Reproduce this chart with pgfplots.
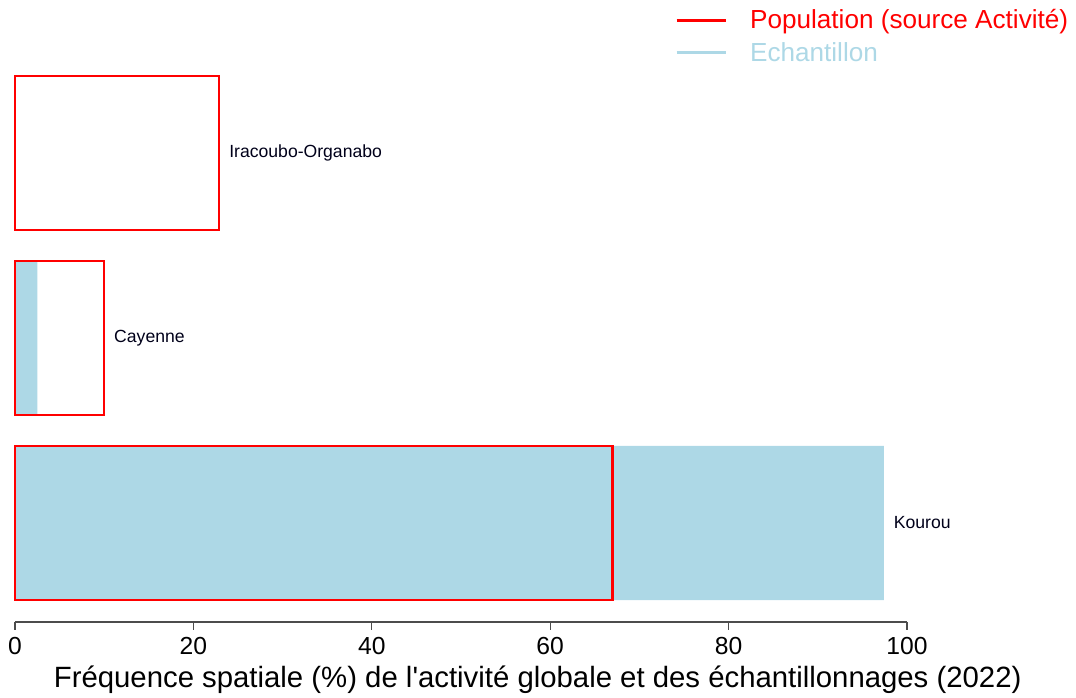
\documentclass[border=0pt]{standalone}
\usepackage{pgfplots}
\pgfplotsset{compat=1.18}
\usepackage{fontspec}
\setmainfont{Liberation Sans}
\definecolor{lblue}{RGB}{173,216,230}
\definecolor{rred}{RGB}{255,0,0}
\begin{document}
\begin{tikzpicture}[x=1pt,y=1pt]
\begin{axis}[
  scale only axis,
  width=669pt, height=460.5pt,
  xmin=0, xmax=100,
  ymin=-0.535, ymax=2.784,
  axis y line=none,
  axis x line*=bottom,
  x axis line style={black!70, line width=0.8pt, -},
  xtick={0,20,40,60,80,100},
  tick align=outside,
  major tick length=6pt,
  tick style={black!70, line width=0.8pt},
  /pgf/number format/assume math mode=true,
  ticklabel style={font=\fontsize{18.5}{22}\selectfont, yshift=-2pt},
  xlabel={Fréquence spatiale (\%) de l\textquotesingle activité globale et des échantillonnages (2022)},
  xlabel style={font=\fontsize{22}{26}\selectfont, at={(axis description cs:0.586,-0.0945)}, anchor=center, inner sep=0pt},
  legend style={at={(axis description cs:1.1825,1.0)}, anchor=north east, draw=none, fill=none,
     font=\fontsize{19.6}{23.5}\selectfont, row sep=6.5pt, column sep=16pt, inner sep=0pt,
     nodes={inner sep=1pt}},
  legend image code/.code={\draw[#1] (0pt,0pt) -- (37pt,0pt);},
  legend cell align=left,
  clip=false,
]
\addlegendimage{rred, line width=2.2pt}
\addlegendentry{\textcolor{rred}{Population (source Activité)}}
\addlegendimage{lblue, line width=2.2pt}
\addlegendentry{\textcolor{lblue}{Echantillon}}

\addplot[xbar, bar width=0.833, bar shift=0pt, fill=lblue, draw=none, forget plot]
  coordinates {(97.4,0) (2.5,1) (0,2)};
\addplot[xbar, bar width=0.833, bar shift=0pt, fill=none, draw=rred, line width=1.8pt, forget plot]
  coordinates {(67.0,0) (10.0,1) (22.9,2)};
\addplot[only marks, mark=none, forget plot,
  nodes near coords, point meta=explicit symbolic,
  nodes near coords style={anchor=west, font=\fontsize{13.2}{16}\selectfont, xshift=4pt, text=black!90!blue}]
  table[meta=label] {
x y label
97.4 0 Kourou
10.0 1 Cayenne
22.9 2 Iracoubo-Organabo
};
\coordinate (O) at (rel axis cs:0,0);
\end{axis}
\pgfresetboundingbox
\path[use as bounding box] ([shift={(-11.25pt,-57pt)}]O) rectangle ([shift={(795.75pt,466.5pt)}]O);
\end{tikzpicture}
\end{document}
